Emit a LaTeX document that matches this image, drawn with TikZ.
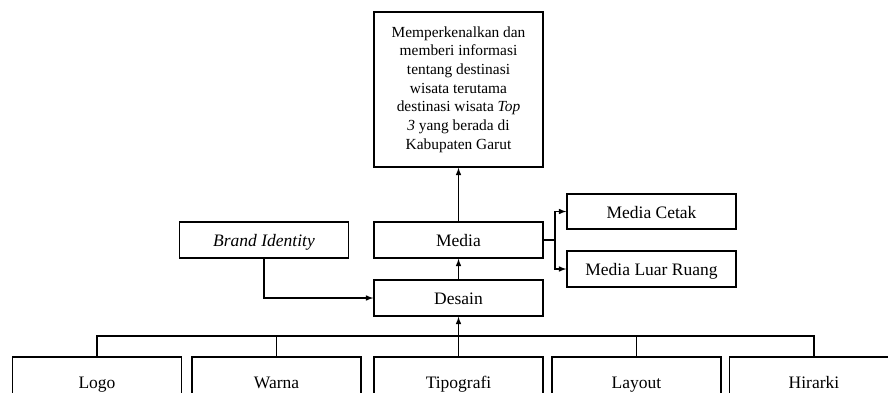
\documentclass[tikz,border=0pt]{standalone}
\usepackage{fontspec}
\setmainfont{Liberation Serif}
\usetikzlibrary{arrows,positioning}

\begin{document}
\begin{tikzpicture}[x=1pt,y=-1pt,>=latex,line width=1.5pt]

    \tikzstyle{box} = [draw, rectangle, minimum width=169pt,
    minimum height=36pt, inner sep=2pt, text height=15pt, text depth=2pt,
    font=\fontsize{17.5}{20}\selectfont]

    \tikzstyle{goal} = [draw, rectangle, minimum width=169pt,
    minimum height=155pt, align=center, font=\fontsize{15.4}{18.7}\selectfont]

    \useasboundingbox (0,0) rectangle (888,392);
    \clip (0,0) rectangle (888,392);

    \draw
    (458.5,89.5) node [goal] (T) {Memperkenalkan dan\\ memberi informasi\\
      tentang destinasi\\ wisata terutama\\ destinasi wisata \textit{Top}\\
      \textit{3} yang berada di\\ Kabupaten Garut}
    (458.5,240) node [box] (M) {Media}
    (264,240) node [box] (B) {\textit{Brand Identity}}
    (458.5,298) node [box] (D) {Desain}
    (651.5,211.5) node [box, minimum height=35pt] (MC) {Media Cetak}
    (651.5,269) node [box] (ML) {Media Luar Ruang}
    (97,382) node [box, minimum height=50pt] (L1) {Logo}
    (276.5,382) node [box, minimum height=50pt] (L2) {Warna}
    (458.5,382) node [box, minimum height=50pt] (L3) {Tipografi}
    (636.5,382) node [box, minimum height=50pt] (L4) {Layout}
    (814,382) node [box, minimum height=50pt] (L5) {Hirarki}
    ;

    % desain ke media ke tujuan
    \draw [->] (D) -- (M);
    \draw [->] (M) -- (T);
    \draw [->] (B.south) |- (D.west);

    % cabang media
    \coordinate (m) at (555,240);
    \draw (M.east) -- (m);
    \draw [->] (m) |- (MC.west);
    \draw [->] (m) |- (ML.west);

    % elemen desain
    \coordinate (bus) at (0,336);
    \draw (L1.north) -- (L1.north |- bus) -- (L5.north |- bus) -- (L5.north);
    \draw (L2.north) -- (L2.north |- bus);
    \draw (L4.north) -- (L4.north |- bus);
    \draw [->] (L3.north) -- (D.south);
  \end{tikzpicture}
\end{document}
